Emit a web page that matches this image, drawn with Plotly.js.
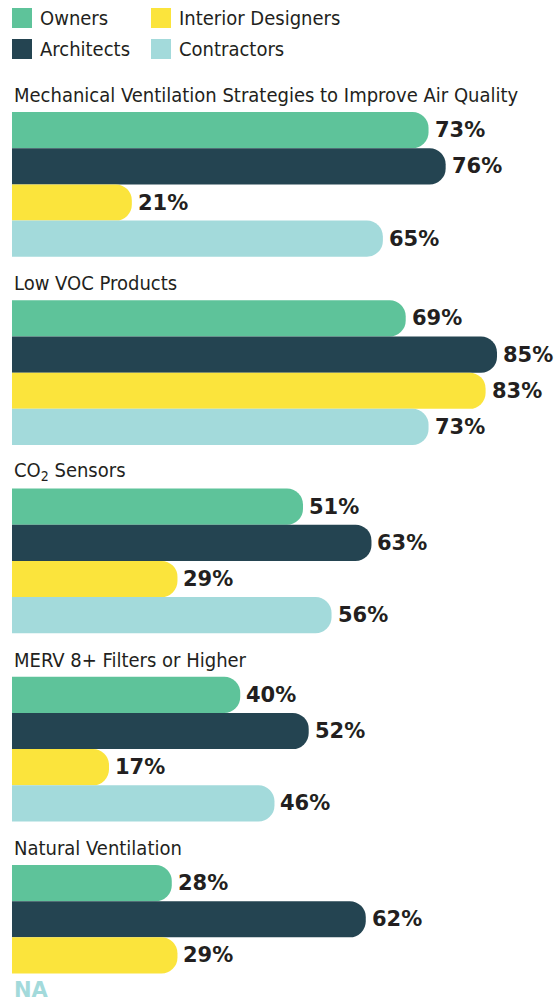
<!DOCTYPE html>
<html>
<head>
<meta charset="utf-8">
<script src="https://cdn.plot.ly/plotly-3.0.1.min.js"></script>
<style>html,body{margin:0;padding:0;background:#fff;}#chart{width:557px;height:1002px;}</style>
</head>
<body>
<div id="chart"></div>
<script>
// ---- data ----
const categories = [
  "Mechanical Ventilation Strategies to Improve Air Quality",
  "Low VOC Products",
  "CO<sub>2</sub> Sensors",
  "MERV 8+ Filters or Higher",
  "Natural Ventilation"
];
const seriesNames = ["Owners", "Architects", "Interior Designers", "Contractors"];
const owners            = [73, 69, 51, 40, 28];
const architects        = [76, 85, 63, 52, 62];
const interiorDesigners = [21, 83, 29, 17, 29];
const contractors       = [65, 73, 56, 46, null];
const seriesColors = ["#5ec39a", "#244451", "#fbe43c", "#a3dadb"];

// ---- layout helpers ----
const W = 557, H = 1002;
const ML = 12, MT = 70, MB = 0, MR = 0;
const SLOT = 36.2;             // px per bar
const GAP = 1.2;               // extra slots between groups
const PERIOD = seriesNames.length + GAP;
const PX_PER_PCT = 5.706;
const plotW = W - ML - MR, plotH = H - MT - MB;
const yTop = -(112 - MT) / SLOT;
const yBottom = yTop + plotH / SLOT;
const xMax = plotW / PX_PER_PCT;

const narrow = "Liberation Sans Narrow, Arial Narrow, DejaVu Sans Condensed, sans-serif";
const heavy = "DejaVu Sans, sans-serif";
const textColor = "#231f20";

const allSeries = [owners, architects, interiorDesigners, contractors];
const pos = (g, i) => g * PERIOD + i + 0.5;

const traces = allSeries.map((vals, i) => ({
  type: "bar",
  orientation: "h",
  name: seriesNames[i],
  x: vals,
  y: vals.map((v, g) => pos(g, i)),
  width: 1,
  marker: { color: seriesColors[i], cornerradius: 16, line: { width: 0 } },
  showlegend: false,
  hoverinfo: "skip"
}));

const annotations = [];
// group titles
categories.forEach((c, g) => {
  annotations.push({
    text: c, xref: "paper", yref: "y", x: 0, y: g * PERIOD - 17 / SLOT,
    xanchor: "left", yanchor: "middle", showarrow: false,
    font: { family: narrow, size: 20, color: textColor }
  });
});
// value labels
allSeries.forEach((vals, i) => {
  vals.forEach((v, g) => {
    if (v === null) {
      annotations.push({
        text: "NA", xref: "x", yref: "y", x: 0, y: pos(g, i) - 0.05,
        xanchor: "left", yanchor: "middle", showarrow: false,
        font: { family: heavy, size: 21, weight: "bold", color: seriesColors[i] }
      });
    } else {
      annotations.push({
        text: v + "%", xref: "x", yref: "y", x: v, y: pos(g, i),
        xanchor: "left", yanchor: "middle", xshift: 4, showarrow: false,
        font: { family: heavy, size: 21, weight: "bold", color: textColor }
      });
    }
  });
});

// manual legend (2x2: Owners, Interior Designers / Architects, Contractors)
const legendOrder = [0, 2, 1, 3];
const shapes = [];
const px2paperX = px => (px - ML) / plotW;
const px2paperY = py => (H - MB - py) / plotH;
legendOrder.forEach((si, k) => {
  const col = k % 2, row = Math.floor(k / 2);
  const sx = col === 0 ? 12 : 151;
  const sy = row === 0 ? 8 : 39;
  shapes.push({
    type: "rect", xref: "paper", yref: "paper",
    x0: px2paperX(sx), x1: px2paperX(sx + 20),
    y0: px2paperY(sy + 20), y1: px2paperY(sy),
    fillcolor: seriesColors[si], line: { width: 0 }
  });
  annotations.push({
    text: seriesNames[si], xref: "paper", yref: "paper",
    x: px2paperX(sx + 26), y: px2paperY(sy + 10),
    xanchor: "left", yanchor: "middle", showarrow: false,
    font: { family: narrow, size: 20, color: textColor }
  });
});

const layout = {
  width: W, height: H,
  margin: { l: ML, r: MR, t: MT, b: MB, pad: 0 },
  paper_bgcolor: "#fff", plot_bgcolor: "#fff",
  barmode: "overlay",
  xaxis: { range: [0, xMax], visible: false, fixedrange: true },
  yaxis: { range: [yBottom, yTop], visible: false, fixedrange: true },
  annotations: annotations,
  shapes: shapes,
  hovermode: false,
  showlegend: false
};

Plotly.newPlot("chart", traces, layout, { staticPlot: true });
</script>
</body>
</html>
